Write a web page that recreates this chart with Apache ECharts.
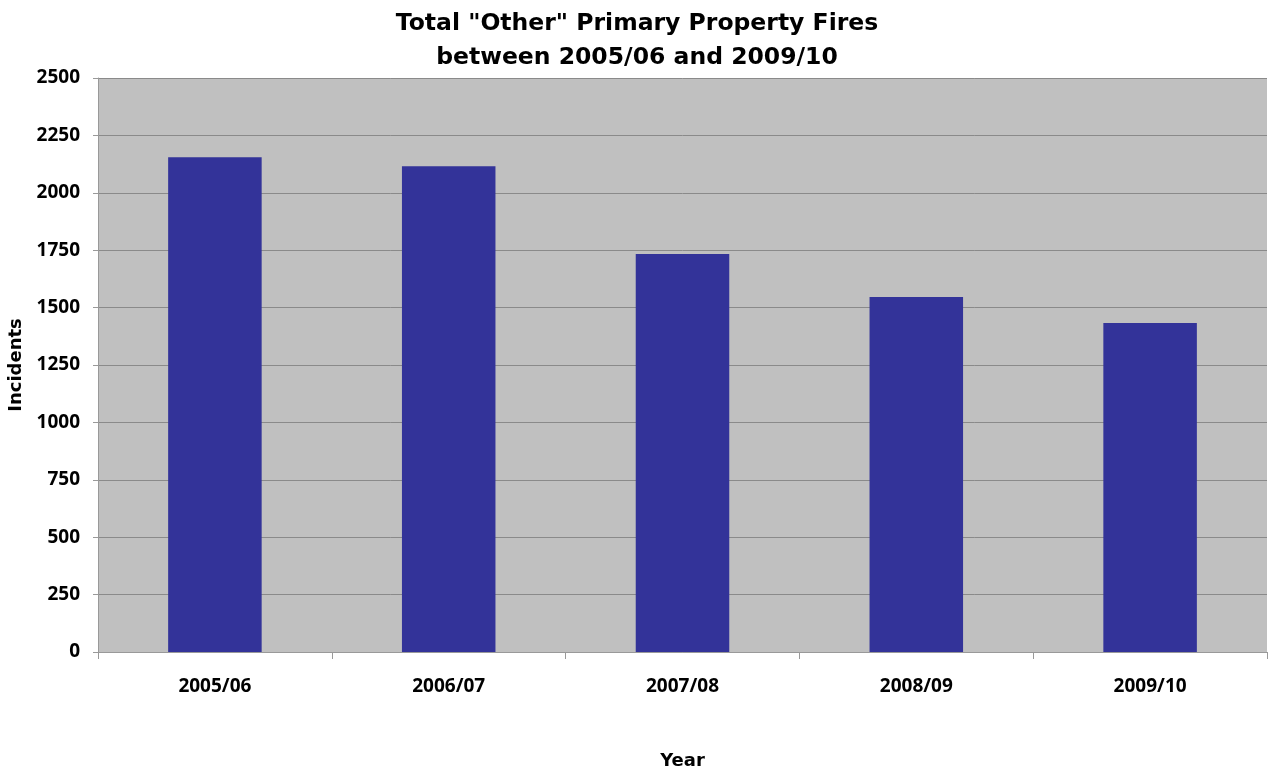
<!DOCTYPE html>
<html>
<head>
<meta charset="utf-8">
<script src="https://cdn.jsdelivr.net/npm/echarts@6/dist/echarts.min.js"></script>
<style>
  html, body { margin: 0; padding: 0; background: #fff; }
  #chart { width: 1274px; height: 773px; }
</style>
</head>
<body>
<div id="chart"></div>
<script>
  // data
  var years = ['2005/06', '2006/07', '2007/08', '2008/09', '2009/10'];
  var incidents = [2155, 2116, 1733, 1546, 1433];

  var font = '"Open Sans", "Liberation Sans", sans-serif';
  var wide = '"DejaVu Sans", sans-serif';
  var chart = echarts.init(document.getElementById('chart'));

  chart.setOption({
    animation: false,
    title: {
      text: 'Total "Other" Primary Property Fires\nbetween 2005/06 and 2009/10',
      left: 'center',
      top: 2,
      textStyle: {
        fontFamily: wide,
        fontWeight: 'bold',
        fontSize: 23.5,
        lineHeight: 34,
        color: '#000'
      }
    },
    grid: {
      left: 98,
      right: 7,
      top: 78,
      bottom: 121,
      outerBoundsMode: 'none',
      containLabel: false,
      show: true,
      backgroundColor: '#c0c0c0',
      borderWidth: 0
    },
    xAxis: {
      type: 'category',
      data: years,
      name: 'Year',
      nameLocation: 'middle',
      nameGap: 100,
      nameTextStyle: { fontFamily: wide, fontWeight: 'bold', fontSize: 18, color: '#000' },
      axisLine: { lineStyle: { color: '#999', width: 1 } },
      axisTick: { show: true, length: 7, lineStyle: { color: '#999' } },
      axisLabel: { fontFamily: font, fontWeight: 'bold', fontSize: 19, color: '#000', margin: 25 }
    },
    yAxis: {
      type: 'value',
      min: 0,
      max: 2500,
      interval: 250,
      name: 'Incidents',
      nameLocation: 'middle',
      nameRotate: 90,
      nameGap: 66,
      nameTextStyle: { fontFamily: wide, fontWeight: 'bold', fontSize: 18, color: '#000' },
      axisLine: { show: true, lineStyle: { color: '#999', width: 1 } },
      axisTick: { show: true, length: 5, lineStyle: { color: '#999' } },
      axisLabel: {
        fontFamily: font, fontWeight: 'bold', fontSize: 19, color: '#000', margin: 18,
        formatter: function (v) { return String(v); }
      },
      splitLine: { show: true, lineStyle: { color: '#8a8a8a', width: 1 } }
    },
    series: [
      {
        name: 'Incidents',
        type: 'bar',
        data: incidents,
        barWidth: '40%',
        itemStyle: { color: '#333399' }
      }
    ]
  });
</script>
</body>
</html>
